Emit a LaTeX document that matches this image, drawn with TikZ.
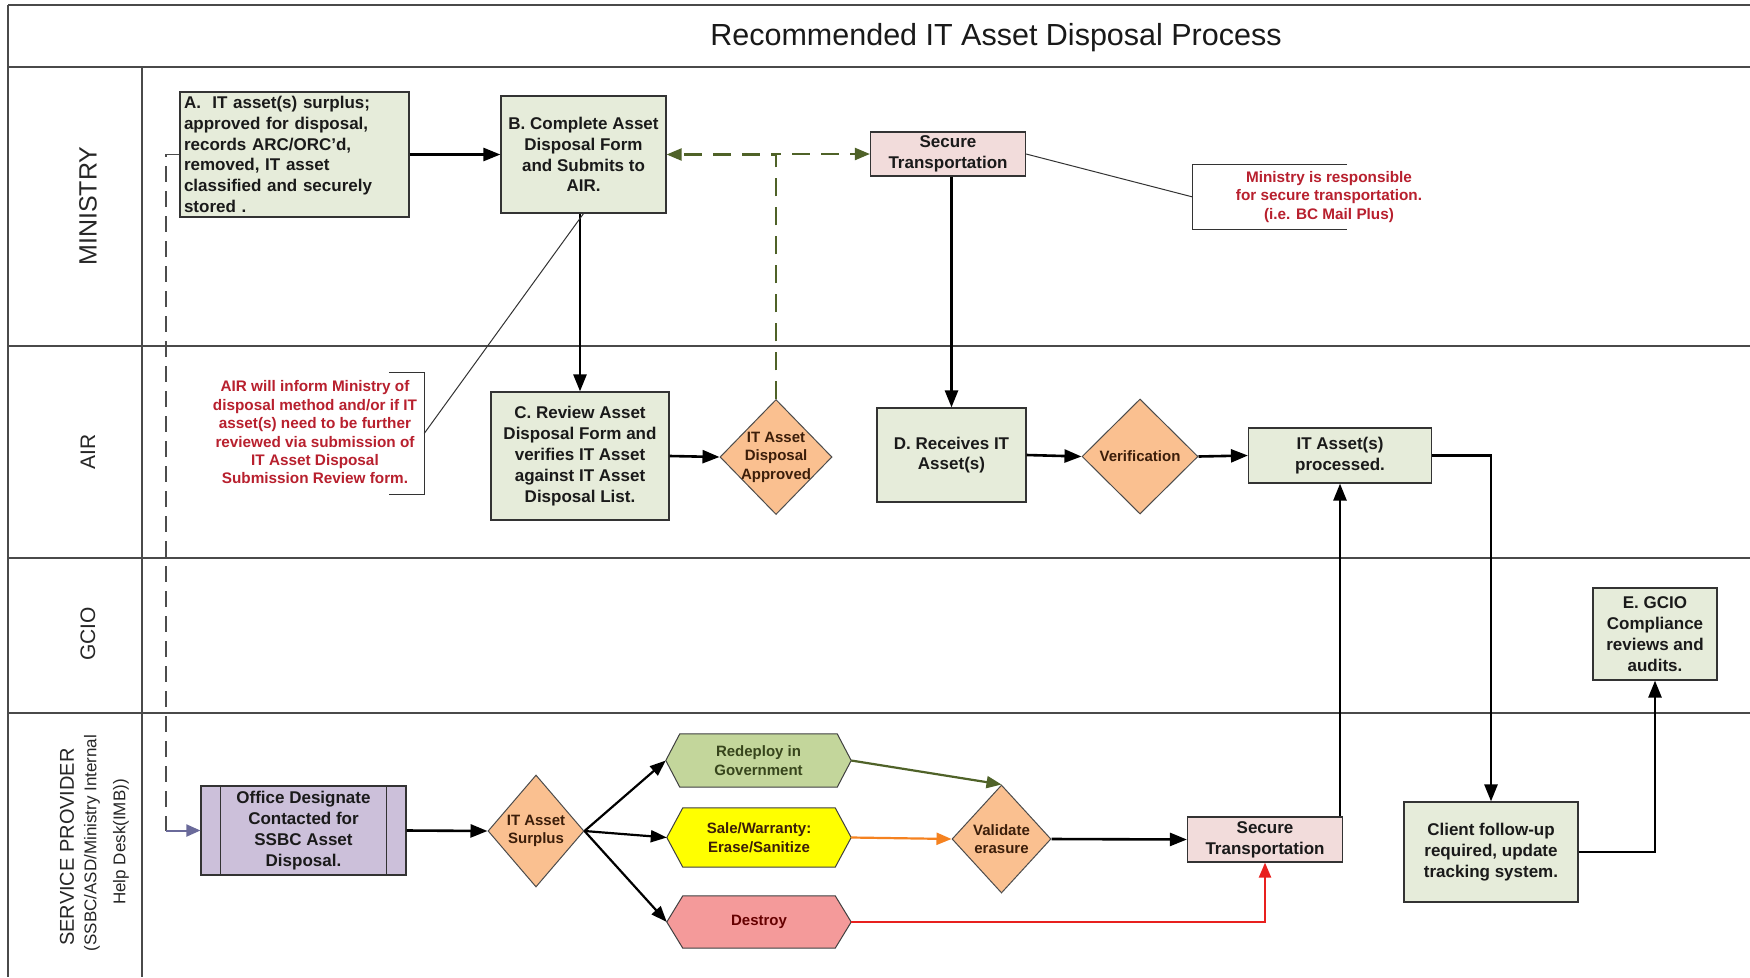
\documentclass[tikz,border=0pt]{standalone}
\usepackage{fontspec}
\setmainfont{Liberation Sans}
\usetikzlibrary{arrows.meta,shapes.geometric,backgrounds}
\definecolor{boxg}{HTML}{E6ECDA}
\definecolor{pinkb}{HTML}{F2DCDB}
\definecolor{lav}{HTML}{CCC0DA}
\definecolor{orng}{HTML}{FAC090}
\definecolor{rdg}{HTML}{C3D69B}
\definecolor{ylw}{HTML}{FFFF00}
\definecolor{dstr}{HTML}{F49A9A}
\definecolor{gline}{HTML}{4F6228}
\definecolor{oline}{HTML}{F58220}
\definecolor{rline}{HTML}{E8201E}
\definecolor{notered}{HTML}{B8202E}
\definecolor{purp}{HTML}{6A6A9A}
\definecolor{lanec}{HTML}{4A4A4A}
\definecolor{txt}{HTML}{1A1A1A}
\definecolor{dtxt}{HTML}{3C1E0A}
\newcommand\bxfont{\fontsize{17}{20.8}\selectfont\bfseries}
\newcommand\smfont{\fontsize{15}{18.5}\selectfont\bfseries}
\newcommand\ntfont{\fontsize{15.3}{18.4}\selectfont\bfseries}
\newcommand\hexshape[3]{%
  \filldraw[fill=#2, draw=black!75, line width=1pt] (#1.west) -- ([xshift=#3]#1.north west) -- ([xshift=-#3]#1.north east) -- (#1.east) -- ([xshift=-#3]#1.south east) -- ([xshift=#3]#1.south west) -- cycle;}
\begin{document}
\begin{tikzpicture}[x=1pt,y=-1pt,
  box/.style={draw=black!80, line width=1.2pt, fill=boxg, inner sep=0pt, align=center, font=\bxfont, text=txt},
  dia/.style={diamond, draw=black!70, line width=1pt, fill=orng, inner sep=0pt},
  dtext/.style={align=center, font=\smfont, text=dtxt, inner sep=0pt},
  hexbox/.style={inner sep=0pt, align=center, font=\smfont},
  arr/.style={line width=2.6pt, draw=black, -{Triangle[length=17pt,width=13pt]}},
  gdash/.style={line width=2.2pt, color=gline, dash pattern=on 18pt off 11pt, -{Triangle[length=15pt,width=12pt]}},
  carr/.style={line width=2.2pt, -{Triangle[length=16pt,width=12pt]}},
  dline/.style={line width=1.8pt, draw=black!70, dash pattern=on 16pt off 9pt},
  thin/.style={line width=1pt, draw=black!80},
  note/.style={align=center, font=\ntfont, text=notered, inner sep=0pt},
  lane/.style={rotate=90, text=black!85, inner sep=0pt}
]
\useasboundingbox (0,0) rectangle (1750,977);
\begin{scope}[on background layer]
  \fill[white] (0,0) rectangle (1750,977);
\end{scope}

% frame and lanes
\draw[line width=2.2pt, draw=lanec] (8,5) -- (1750,5);
\draw[line width=2.2pt, draw=lanec] (8,67) -- (1750,67);
\draw[line width=1.4pt, draw=lanec] (8,5) -- (8,977);
\draw[line width=1.2pt, draw=lanec] (142,67) -- (142,977);
\draw[line width=2pt, draw=lanec] (8,346) -- (1750,346);
\draw[line width=2pt, draw=lanec] (8,558) -- (1750,558);
\draw[line width=2pt, draw=lanec] (8,713) -- (1750,713);

\node[font=\fontsize{30.5}{33}\selectfont, text=black!90] (title) at (996,38) {Recommended IT Asset Disposal Process};

\node[lane, font=\fontsize{25}{28}\selectfont] (lmin) at (88,206) {MINISTRY};
\node[lane, font=\fontsize{21}{24}\selectfont] (lair) at (88,452) {AIR};
\node[lane, font=\fontsize{21}{24}\selectfont] (lgcio) at (88,634) {GCIO};
\node[lane, font=\fontsize{20}{22}\selectfont] (lsp1) at (67,847) {SERVICE PROVIDER};
\node[lane, font=\fontsize{17}{20}\selectfont] (lsp2) at (92,843) {(SSBC/ASD/Ministry Internal};
\node[lane, font=\fontsize{17}{20}\selectfont] (lsp3) at (121,842) {Help Desk(IMB))};

% Ministry lane
\node[box, align=left, text width=221pt, inner xsep=4pt, minimum height=125pt] (A) at (294.5,154.5)
  {A.~ IT asset(s) surplus;\\approved for disposal,\\records ARC/ORC’d,\\removed, IT asset\\classified and securely\\stored .};
\node[box, minimum width=165pt, minimum height=117pt] (B) at (583.5,154.5)
  {B. Complete Asset\\Disposal Form\\and Submits to\\AIR.};
\node[box, fill=pinkb, minimum width=155pt, minimum height=44pt] (st1) at (948,154)
  {Secure\\Transportation};
\node[minimum width=154pt, minimum height=64pt, inner sep=0pt] (mn) at (1270,197) {};
\draw[thin] (mn.north east) -- (mn.north west) -- (mn.south west) -- (mn.south east);
\node[note] (mnt) at (1329,197) {Ministry is responsible\\for secure transportation.\\(i.e. BC Mail Plus)};

% AIR lane
\node[minimum width=35pt, minimum height=121pt, inner sep=0pt] (an) at (406.5,433.5) {};
\draw[thin] (an.north west) -- (an.north east) -- (an.south east) -- (an.south west);
\node[note] (ant) at (315,432.5) {AIR will inform Ministry of\\disposal method and/or if IT\\asset(s) need to be further\\reviewed via submission of\\IT Asset Disposal\\Submission Review form.};
\node[box, minimum width=178pt, minimum height=128pt] (C) at (580,456)
  {C. Review Asset\\Disposal Form and\\verifies IT Asset\\against IT Asset\\Disposal List.};
\node[dia, minimum width=112pt, minimum height=115pt] (ap) at (776,457) {};
\node[dtext] (apt) at (ap) {IT Asset\\Disposal\\Approved};
\node[box, minimum width=149pt, minimum height=94pt] (D) at (951.5,455) {D. Receives IT\\Asset(s)};
\node[dia, minimum width=116pt, minimum height=115pt] (vf) at (1140,456.5) {};
\node[dtext] (vft) at (vf) {Verification};
\node[box, minimum width=183pt, minimum height=55pt] (proc) at (1340,455.5) {IT Asset(s)\\processed.};

% GCIO lane
\node[box, minimum width=124pt, minimum height=92pt] (E) at (1655,634) {E. GCIO\\Compliance\\reviews and\\audits.};

% Service provider lane
\node[box, fill=lav, minimum width=205pt, minimum height=89pt] (od) at (303.5,830.5)
  {Office Designate\\Contacted for\\SSBC Asset\\Disposal.};
\draw[line width=1.2pt, draw=black!80] ([xshift=20pt]od.north west) -- ([xshift=20pt]od.south west);
\draw[line width=1.2pt, draw=black!80] ([xshift=-20pt]od.north east) -- ([xshift=-20pt]od.south east);
\node[dia, minimum width=96pt, minimum height=112pt] (su) at (536,831) {};
\node[dtext] (sut) at (su) {IT Asset\\Surplus};

\node[hexbox, minimum width=185pt, minimum height=53pt, text=gline!70!black] (rd) at (758.5,760.5) {Redeploy in\\Government};
\node[hexbox, minimum width=184pt, minimum height=59pt, text=dtxt] (sa) at (759,837.5) {Sale/Warranty:\\Erase/Sanitize};
\node[hexbox, minimum width=184pt, minimum height=52pt, text=red!40!black] (de) at (759,922) {Destroy};
\begin{scope}[on background layer]
  \hexshape{rd}{rdg}{14pt}
  \hexshape{sa}{ylw}{16pt}
  \hexshape{de}{dstr}{16pt}
\end{scope}

\node[dia, minimum width=99pt, minimum height=108pt] (va) at (1001.5,839) {};
\node[dtext] (vat) at (va) {Validate\\erasure};
\node[box, fill=pinkb, minimum width=155pt, minimum height=45pt] (st2) at (1265,839.5) {Secure\\Transportation};
\node[box, minimum width=174pt, minimum height=100pt] (cl) at (1491,852) {Client follow-up\\required, update\\tracking system.};

% connectors
\coordinate (dc1) at (166,154.5);
\coordinate (dc2) at (166,830.5);
\draw[dline] (A.west) -- (dc1) -- (dc2);
\draw[line width=2pt, draw=purp, -{Triangle[length=14pt,width=12pt]}] (dc2) -- (od.west);

\draw[arr] (A.east) -- (B.west);
\draw[gdash] (ap.north) |- (B.east);
\draw[gdash] (ap.north) |- (st1.west);
\draw[arr] (C.north |- B.south) -- (C.north);
\draw[thin] (B.south) -- (an.east);
\draw[thin] (st1.east) -- (mn.west);
\draw[arr] (C.east) -- (ap.west);
\draw[arr] (D.north |- st1.south) -- (D.north);
\draw[arr] (D.east) -- (vf.west);
\draw[arr] (vf.east) -- (proc.west);
\draw[arr] (proc.east) -| (cl.north);
\draw[arr] (cl.east) -| (E.south);
\draw[arr] (proc.south |- st2.north) -- (proc.south);

\draw[arr] (od.east) -- (su.west);
\draw[carr] (su.east) -- (rd.west);
\draw[carr] (su.east) -- (sa.west);
\draw[carr] (su.east) -- (de.west);
\draw[line width=2.2pt, draw=gline, -{Triangle[length=15pt,width=12pt]}] (rd.east) -- (va.north);
\draw[line width=2.2pt, draw=oline, -{Triangle[length=15pt,width=12pt]}] (sa.east) -- (va.west);
\draw[arr] (va.east) -- (st2.west);
\draw[line width=2.2pt, draw=rline, -{Triangle[length=15pt,width=12pt]}] (de.east) -| (st2.south);
\end{tikzpicture}
\end{document}
